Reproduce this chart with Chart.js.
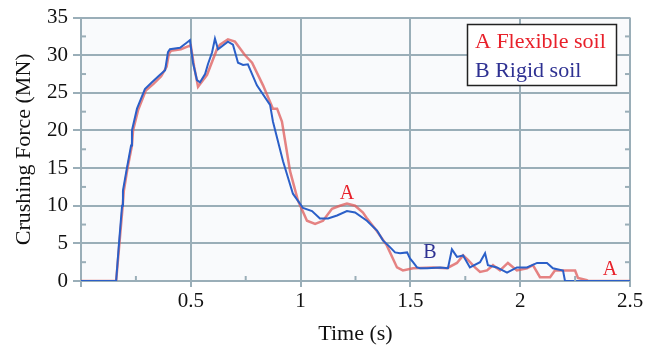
<!DOCTYPE html>
<html>
<head>
<meta charset="utf-8">
<script src="https://cdn.jsdelivr.net/npm/chart.js@4"></script>
<style>
  body { margin: 0; background: #fff; }
  #wrap { position: relative; width: 656px; height: 352px; }
</style>
</head>
<body>
<div id="wrap">
  <canvas id="chart"></canvas>
</div>
<script>
// A: flexible soil (red)
const timeA = [0, 0.16, 0.175, 0.19, 0.195, 0.212, 0.232, 0.237, 0.26, 0.295, 0.33, 0.365, 0.39, 0.4, 0.41, 0.455, 0.49, 0.5,
  0.515, 0.533, 0.574, 0.619, 0.633, 0.669, 0.701, 0.747, 0.779, 0.829, 0.874, 0.893, 0.915, 0.952, 0.988, 1.029, 1.066,
  1.102, 1.143, 1.179, 1.211, 1.248, 1.284, 1.30, 1.348, 1.393, 1.439, 1.466, 1.512, 1.603, 1.667, 1.712, 1.74, 1.762,
  1.794, 1.817, 1.849, 1.876, 1.908, 1.944, 1.985, 2.031, 2.058, 2.09, 2.136, 2.158, 2.213, 2.25, 2.263, 2.304, 2.31, 2.5];
const forceA = [0, 0, 5, 10, 12, 15, 18, 20, 22.7, 25.3, 26.2, 27.2, 28.5, 30.2, 30.6, 30.8, 31.2, 31.3,
  28.5, 25.8, 27.4, 30.8, 31.4, 32.1, 31.8, 30, 29, 26, 22.9, 22.9, 21.2, 14.6, 10.7, 8, 7.6,
  8, 9.6, 10, 10.3, 10, 9.1, 8.4, 6.6, 4.7, 1.8, 1.4, 1.7, 1.8, 1.7, 2.4, 3.4, 2.8,
  1.8, 1.2, 1.4, 2.1, 1.4, 2.4, 1.4, 1.7, 2.1, 0.5, 0.5, 1.4, 1.4, 1.4, 0.4, 0.1, 0, 0];

// B: rigid soil (blue)
const timeB = [0, 0.16, 0.173, 0.187, 0.191, 0.209, 0.228, 0.232, 0.255, 0.291, 0.323, 0.36, 0.383, 0.396, 0.405, 0.451,
  0.487, 0.496, 0.51, 0.528, 0.542, 0.565, 0.578, 0.597, 0.61, 0.624, 0.669, 0.692, 0.715, 0.738, 0.76, 0.801, 0.861,
  0.874, 0.92, 0.965, 1.011, 1.052, 1.088, 1.125, 1.166, 1.211, 1.248, 1.302, 1.348, 1.375, 1.407, 1.43, 1.453, 1.485,
  1.498, 1.512, 1.53, 1.544, 1.576, 1.635, 1.671, 1.689, 1.712, 1.74, 1.771, 1.817, 1.84, 1.853, 1.894, 1.94, 1.985,
  2.031, 2.077, 2.122, 2.149, 2.195, 2.204, 2.5];
const forceB = [0, 0, 5, 10, 12, 15, 18, 20, 22.9, 25.5, 26.4, 27.4, 28, 30.4, 30.8, 31,
  31.8, 32, 29, 26.7, 26.4, 27.5, 28.8, 30.4, 32.2, 30.8, 31.8, 31.4, 29, 28.7, 28.8, 26, 23.4,
  21.2, 15.9, 11.6, 9.7, 9.3, 8.3, 8.3, 8.7, 9.3, 9.1, 8.0, 6.7, 5.4, 4.5, 3.8, 3.7, 3.8,
  3, 2.5, 1.8, 1.7, 1.7, 1.8, 1.7, 4.2, 3.2, 3.4, 1.8, 2.5, 3.7, 2.1, 1.8, 1.1, 1.8,
  1.8, 2.4, 2.4, 1.7, 1.4, 0, 0];

// curve labels: [text, time, force, colour]
const curveLabels = [
  ['A', 1.211, 11.6, '#e8202a'],
  ['B', 1.589, 3.7, '#2e3192'],
  ['A', 2.409, 1.45, '#e8202a']
];

const xTicks = [0, 0.5, 1, 1.5, 2, 2.5];
const yTicks = [0, 5, 10, 15, 20, 25, 30, 35];

const GRID = '#9aaeb8';
const SERIF = '"Liberation Serif", "Times New Roman", serif';

const pts = (xs, ys) => xs.map((x, i) => ({ x: x, y: ys[i] }));

const plotBg = {
  id: 'plotBg',
  beforeDraw(chart) {
    const { ctx, chartArea: a } = chart;
    ctx.save();
    ctx.fillStyle = '#f9fafc';
    ctx.fillRect(a.left, a.top, a.right - a.left, a.bottom - a.top);
    ctx.restore();
  }
};

const extras = {
  id: 'extras',
  afterDatasetsDraw(chart) {
    const { ctx, scales: { x, y }, chartArea: a } = chart;
    ctx.save();
    // minor ticks
    ctx.strokeStyle = GRID;
    ctx.lineWidth = 2;
    for (let v = 2.5; v < 35; v += 5) {
      const py = y.getPixelForValue(v);
      ctx.beginPath(); ctx.moveTo(a.left, py); ctx.lineTo(a.left + 5, py); ctx.stroke();
      ctx.beginPath(); ctx.moveTo(a.right, py); ctx.lineTo(a.right - 5, py); ctx.stroke();
    }
    for (let v = 0.25; v < 2.5; v += 0.5) {
      const px = x.getPixelForValue(v);
      ctx.beginPath(); ctx.moveTo(px, a.bottom); ctx.lineTo(px, a.bottom - 5); ctx.stroke();
    }
    // curve labels
    ctx.font = '20px ' + SERIF;
    ctx.textAlign = 'center';
    ctx.textBaseline = 'middle';
    curveLabels.forEach(([t, cx, cy, c]) => {
      ctx.fillStyle = c;
      ctx.fillText(t, x.getPixelForValue(cx), y.getPixelForValue(cy));
    });
    // legend box
    ctx.fillStyle = '#fff';
    ctx.fillRect(467, 24, 150, 62);
    ctx.strokeStyle = '#222';
    ctx.lineWidth = 1.5;
    ctx.strokeRect(467.5, 24.5, 149, 61);
    ctx.font = '22px ' + SERIF;
    ctx.textAlign = 'left';
    ctx.textBaseline = 'alphabetic';
    chart.data.datasets.forEach((ds, i) => {
      ctx.fillStyle = ds.legendColor;
      ctx.fillText(ds.label, 475, 48 + i * 29);
    });
    ctx.restore();
  }
};

new Chart(document.getElementById('chart').getContext('2d'), {
  type: 'line',
  data: {
    datasets: [
      {
        label: 'A Flexible soil',
        legendColor: '#e8202a',
        data: pts(timeA, forceA),
        borderColor: 'rgba(222,90,90,0.75)',
        borderWidth: 2.5,
        pointRadius: 0,
        tension: 0,
        order: 2
      },
      {
        label: 'B Rigid soil',
        legendColor: '#2e3192',
        data: pts(timeB, forceB),
        borderColor: '#2b5fc8',
        borderWidth: 2,
        pointRadius: 0,
        tension: 0,
        order: 1
      }
    ]
  },
  options: {
    responsive: true,
    maintainAspectRatio: false,
    animation: false,
    layout: { padding: { left: 0, top: 15, right: 26, bottom: 0 } },
    plugins: {
      legend: { display: false },
      tooltip: { enabled: false }
    },
    scales: {
      x: {
        type: 'linear',
        min: 0,
        max: 2.5,
        afterBuildTicks: s => { s.ticks = xTicks.map(v => ({ value: v })); },
        afterFit: s => { s.height = 71; },
        grid: { color: GRID, lineWidth: 2, tickLength: 6 },
        border: { color: GRID, width: 2 },
        ticks: {
          color: '#111',
          font: { family: SERIF, size: 21 },
          padding: 2,
          maxRotation: 0,
          callback: v => v === 0 ? '' : String(v)
        },
        title: {
          display: true,
          text: 'Time (s)',
          color: '#111',
          font: { family: SERIF, size: 22 },
          padding: { top: 0, bottom: 5 }
        }
      },
      y: {
        min: 0,
        max: 35,
        afterBuildTicks: s => { s.ticks = yTicks.map(v => ({ value: v })); },
        afterFit: s => { s.width = 81; },
        grid: { color: GRID, lineWidth: 2, tickLength: 8 },
        border: { color: GRID, width: 2 },
        ticks: {
          color: '#111',
          font: { family: SERIF, size: 21 },
          padding: 5
        },
        title: {
          display: true,
          text: 'Crushing Force (MN)',
          color: '#111',
          font: { family: SERIF, size: 22 },
          padding: { top: 11, bottom: 0 }
        }
      }
    }
  },
  plugins: [plotBg, extras]
});
</script>
</body>
</html>
